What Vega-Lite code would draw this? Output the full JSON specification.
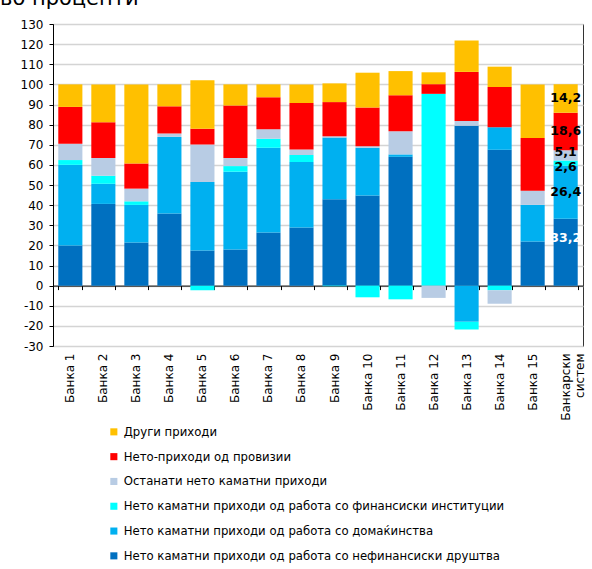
{
  "$schema": "https://vega.github.io/schema/vega-lite/v6.json",
  "width": 530,
  "height": 322,
  "autosize": {"type": "none"},
  "padding": {"left": 53, "top": 24, "right": 9, "bottom": 223},
  "title": {"text": "во проценти", "anchor": "start", "frame": "group", "fontSize": 21, "fontWeight": "normal", "font": "DejaVu Sans", "color": "black", "dx": -53, "baseline": "alphabetic", "offset": 0, "dy": 8},
  "datasets": {
    "banks": [
      {"bank": "Банка 1", "nef": 20, "dom": 40, "fin": 2.4, "ost": 8.1, "prov": 18.3, "dr": 11.2},
      {"bank": "Банка 2", "nef": 40.6, "dom": 10, "fin": 4, "ost": 8.8, "prov": 17.8, "dr": 18.8},
      {"bank": "Банка 3", "nef": 21.4, "dom": 18.7, "fin": 1.8, "ost": 6.3, "prov": 12.5, "dr": 39.3},
      {"bank": "Банка 4", "nef": 35.8, "dom": 38.1, "fin": 0, "ost": 1.7, "prov": 13.5, "dr": 10.9},
      {"bank": "Банка 5", "nef": 17.5, "dom": 34, "fin": -2.3, "ost": 18.6, "prov": 7.8, "dr": 24.1},
      {"bank": "Банка 6", "nef": 18, "dom": 38.6, "fin": 2.8, "ost": 4, "prov": 26.1, "dr": 10.5},
      {"bank": "Банка 7", "nef": 26.4, "dom": 42.1, "fin": 4.5, "ost": 4.7, "prov": 15.9, "dr": 6.4},
      {"bank": "Банка 8", "nef": 28.9, "dom": 32.5, "fin": 3.5, "ost": 2.8, "prov": 23, "dr": 9.3},
      {"bank": "Банка 9", "nef": 42.9, "dom": 30.7, "fin": -0.3, "ost": 0.6, "prov": 17, "dr": 9.3},
      {"bank": "Банка 10", "nef": 44.8, "dom": 23.7, "fin": -5.8, "ost": 0.8, "prov": 19.2, "dr": 17.3},
      {"bank": "Банка 11", "nef": 64, "dom": 1.2, "fin": -6.8, "ost": 11.5, "prov": 17.9, "dr": 12},
      {"bank": "Банка 12", "nef": 0, "dom": 0, "fin": 95.3, "ost": -6.1, "prov": 4.8, "dr": 5.9},
      {"bank": "Банка 13", "nef": 79.5, "dom": -18, "fin": -3.8, "ost": 2.3, "prov": 24.4, "dr": 15.6},
      {"bank": "Банка 14", "nef": 67.5, "dom": 11.2, "fin": -2.3, "ost": -6.7, "prov": 20, "dr": 10.1},
      {"bank": "Банка 15", "nef": 21.9, "dom": 18.2, "fin": 0, "ost": 7.1, "prov": 26.2, "dr": 26.6},
      {"bank": "Банкарски систем", "nef": 33.2, "dom": 26.4, "fin": 2.6, "ost": 5.1, "prov": 18.6, "dr": 14.2}
    ],
    "series": [
      {"code": "nef", "name": "Нето каматни приходи од работа со нефинансиски друштва"},
      {"code": "dom", "name": "Нето каматни приходи од работа со домаќинства"},
      {"code": "fin", "name": "Нето каматни приходи од работа со финансиски институции"},
      {"code": "ost", "name": "Останати нето каматни приходи"},
      {"code": "prov", "name": "Нето-приходи од провизии"},
      {"code": "dr", "name": "Други приходи"}
    ]
  },
  "data": {"name": "banks"},
  "transform": [
    {"fold": ["nef", "dom", "fin", "ost", "prov", "dr"], "as": ["code", "value"]},
    {"lookup": "code", "from": {"data": {"name": "series"}, "key": "code", "fields": ["name"]}},
    {"calculate": "indexof(['nef','dom','fin','ost','prov','dr'], datum.code)", "as": "ord"}
  ],
  "layer": [
    {
      "mark": {"type": "bar"},
      "encoding": {
        "x": {"field": "bank", "type": "nominal", "sort": null,
          "scale": {"paddingInner": 0.27, "paddingOuter": 0.16},
          "axis": {"orient": "bottom", "title": null, "labelAngle": -90, "labelPadding": 7, "labelFontSize": 12, "labelColor": "black", "domain": false, "ticks": false, "grid": false,
            "labelExpr": "datum.value == 'Банкарски систем' ? ['Банкарски', 'систем'] : datum.value"}},
        "y": {"field": "value", "type": "quantitative", "stack": "zero",
          "scale": {"domain": [-30, 130], "nice": false, "zero": false},
          "axis": {"title": null, "values": [-30, -20, -10, 0, 10, 20, 30, 40, 50, 60, 70, 80, 90, 100, 110, 120, 130], "labelOverlap": false, "grid": true, "gridColor": "#d4d4d4", "gridWidth": 1.5, "domainColor": "black", "tickColor": "black", "tickSize": 4, "labelPadding": 6, "labelFontSize": 12, "labelColor": "black"}},
        "order": {"field": "ord", "type": "quantitative"},
        "color": {"field": "name", "type": "nominal",
          "scale": {
            "domain": ["Други приходи", "Нето-приходи од провизии", "Останати нето каматни приходи", "Нето каматни приходи од работа со финансиски институции", "Нето каматни приходи од работа со домаќинства", "Нето каматни приходи од работа со нефинансиски друштва"],
            "range": ["#FFC000", "#FF0000", "#B8CCE4", "#00FFFF", "#00B0F0", "#0070C0"]},
          "legend": {"orient": "none", "legendX": 55, "legendY": 402, "title": null, "symbolType": "square", "symbolSize": 50, "symbolStrokeWidth": 0, "labelFontSize": 11.7, "labelColor": "black", "labelLimit": 600, "rowPadding": 11.8, "labelOffset": 4}}
      }
    },
    {
      "transform": [
        {"stack": "value", "groupby": ["bank"], "sort": [{"field": "ord"}], "as": ["y0", "y1"]},
        {"calculate": "(datum.y0 + datum.y1) / 2", "as": "ymid"},
        {"filter": "datum.bank == 'Банкарски систем'"}
      ],
      "encoding": {
        "x": {"field": "bank", "type": "nominal", "sort": null,
          "scale": {"paddingInner": 0.27, "paddingOuter": 0.16},
          "axis": {"orient": "bottom", "offset": -60.4, "title": null, "labels": false, "grid": false, "domainColor": "black", "domainWidth": 1, "tickColor": "black", "tickSize": 4, "tickBand": "extent"}},
        "y": {"field": "ymid", "type": "quantitative",
          "axis": {"title": null, "values": [-30, -20, -10, 0, 10, 20, 30, 40, 50, 60, 70, 80, 90, 100, 110, 120, 130], "labelOverlap": false, "grid": true, "gridColor": "#d4d4d4", "gridWidth": 1.5, "domainColor": "black", "tickColor": "black", "tickSize": 4, "labelPadding": 6, "labelFontSize": 12, "labelColor": "black"}},
        "text": {"field": "value", "type": "quantitative", "format": ".1f"}
      },
      "layer": [
        {
          "transform": [{"filter": "datum.code == 'dr' || datum.code == 'prov' || datum.code == 'dom'"}],
          "mark": {"type": "text", "fontWeight": "bold", "fontSize": 12.5, "align": "center", "baseline": "middle", "color": "black"}
        },
        {
          "transform": [{"filter": "datum.code == 'ost'"}],
          "mark": {"type": "text", "fontWeight": "bold", "fontSize": 12.5, "align": "center", "baseline": "middle", "color": "black", "dy": -3.5}
        },
        {
          "transform": [{"filter": "datum.code == 'fin'"}],
          "mark": {"type": "text", "fontWeight": "bold", "fontSize": 12.5, "align": "center", "baseline": "middle", "color": "black", "dy": 3.5}
        },
        {
          "transform": [{"filter": "datum.code == 'nef'"}],
          "mark": {"type": "text", "fontWeight": "bold", "fontSize": 12.5, "align": "center", "baseline": "middle", "color": "white", "dy": -14}
        }
      ]
    }
  ],
  "resolve": {"axis": {"x": "independent"}},
  "config": {
    "font": "DejaVu Sans",
    "view": {"stroke": "#333333", "strokeWidth": 1},
    "locale": {"number": {"decimal": ",", "thousands": ".", "grouping": [3], "currency": ["", ""], "minus": "-"}}
  }
}
